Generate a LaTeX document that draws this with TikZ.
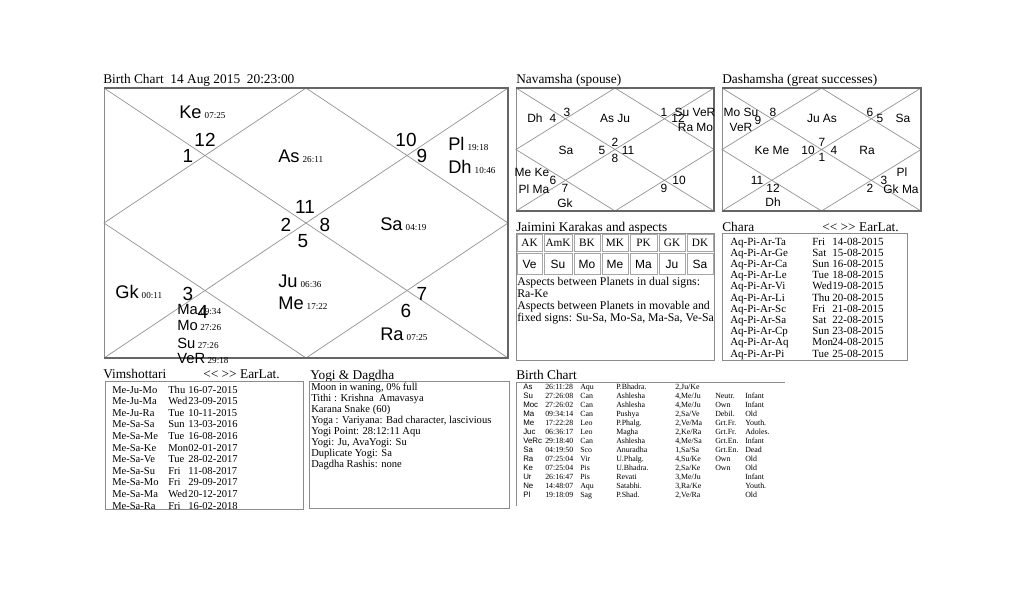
\documentclass[tikz,border=0pt]{standalone}
\usepackage{fontspec}
\setmainfont{Liberation Serif}
\newfontfamily\chartsans{Liberation Sans}
\newcommand\dgr[1]{\,{\rmfamily\fontsize{6.5}{6.5}\selectfont #1}}
\newcommand\dayfld[1]{\makebox[14.3pt][l]{#1}}
\newcommand\navlink{\textless\kern0pt\textless\ \textgreater\kern0pt\textgreater\ EarLat.}

\begin{document}
\begin{tikzpicture}[x=0.025cm,y=-0.025cm,
  every node/.style={inner sep=0pt},
  house/.style={font=\chartsans\fontsize{13}{13}\selectfont,anchor=base west},
  hnum/.style={font=\chartsans\fontsize{13.5}{13.5}\selectfont,anchor=base},
  crowd/.style={font=\chartsans\fontsize{10.5}{10.5}\selectfont,anchor=base west},
  varga/.style={font=\chartsans\fontsize{8.5}{8.5}\selectfont},
  ttl/.style={font=\fontsize{9.5}{9.5}\selectfont,anchor=base west},
  listtxt/.style={font=\fontsize{#1}{#1}\selectfont,anchor=base west},
  chartline/.style={draw=gray!85,line width=0.5pt},
  frame/.style={draw=gray!90,line width=0.6pt},
  heavy/.style={draw=gray!80!black,line width=1.4pt},
  cell/.style={draw=gray!70,line width=0.5pt}]
\useasboundingbox (0,0) rectangle (1024,614);

% ---------- Rasi chart
\node[ttl] (rasiT) at (103,83) {Birth Chart\ \ 14 Aug 2015\ \ 20:23:00};
\coordinate (tl) at (104,88); \coordinate (tr) at (508,88);
\coordinate (bl) at (104,358); \coordinate (br) at (508,358);
\coordinate (tm) at (306,88); \coordinate (bm) at (306,358);
\coordinate (lm) at (104,223); \coordinate (rm) at (508,223);
\draw[frame] (tl) rectangle (br);
\draw[chartline] (tl) -- (br) (tr) -- (bl);
\draw[chartline] (tm) -- (rm) -- (bm) -- (lm) -- cycle;
\draw[heavy] (tl) -- (tr) -- (br) -- (bl);

\node[house] (ke) at (179,118) {Ke\dgr{07:25}};
\node[house] (as) at (278,162) {As\dgr{26:11}};
\node[house] (pl) at (448,150) {Pl\dgr{19:18}};
\node[house] (dh) at (448,173) {Dh\dgr{10:46}};
\node[house] (sa) at (380,230) {Sa\dgr{04:19}};
\node[house] (gk) at (115,298) {Gk\dgr{00:11}};
\node[house] (ju) at (278,287) {Ju\dgr{06:36}};
\node[house] (me) at (278,309) {Me\dgr{17:22}};
\node[house] (ra) at (380,340) {Ra\dgr{07:25}};
\node[crowd] (ma) at (177,314) {Ma\dgr{09:34}};
\node[crowd] (mo) at (177,330) {Mo\dgr{27:26}};
\node[crowd] (su) at (177,348) {Su\dgr{27:26}};
\node[crowd] (ve) at (177,363) {VeR\dgr{29:18}};

\foreach \hx/\hy/\hn in {205/146/12, 188/162/1, 406/146/10, 422/162/9,
    305/213/11, 286/231/2, 325/231/8, 303/247/5,
    188/300/3, 203/318/4, 422/300/7, 406/317/6}
  \node[hnum] (h\hn) at (\hx,\hy) {\hn};

% ---------- Navamsha
\node[ttl] (navT) at (516,83) {Navamsha (spouse)};
\coordinate (ntl) at (516,88); \coordinate (ntr) at (714,88);
\coordinate (nbl) at (516,211); \coordinate (nbr) at (714,211);
\coordinate (ntm) at (615,88); \coordinate (nbm) at (615,211);
\coordinate (nlm) at (516,149.5); \coordinate (nrm) at (714,149.5);
\draw[frame] (ntl) rectangle (nbr);
\draw[chartline] (ntl) -- (nbr) (ntr) -- (nbl);
\draw[chartline] (ntm) -- (nrm) -- (nbm) -- (nlm) -- cycle;
\draw[heavy] (ntl) -- (ntr) -- (nbr) -- (nbl);
\foreach \vx/\vy/\vt [count=\i] in {535/118/Dh, 553/118/4, 567/112/3, 615/118/As Ju,
    664/112/1, 695/112/Su VeR, 678/118/12, 695.5/127/Ra Mo, 566/150/Sa,
    602/150/5, 615/142/2, 628/150/11, 615/158/8,
    532/172/Me Ke, 553/180/6, 534/189/Pl Ma, 565/188/7, 565/203/Gk,
    679/180/10, 664/188/9}
  \node[varga] (nv\i) at (\vx,\vy) {\vt};

% ---------- Dashamsha
\node[ttl] (dasT) at (722,83) {Dashamsha (great successes)};
\coordinate (dtl) at (722,88); \coordinate (dtr) at (921,88);
\coordinate (dbl) at (722,211); \coordinate (dbr) at (921,211);
\coordinate (dtm) at (821.5,88); \coordinate (dbm) at (821.5,211);
\coordinate (dlm) at (722,149.5); \coordinate (drm) at (921,149.5);
\draw[frame] (dtl) rectangle (dbr);
\draw[chartline] (dtl) -- (dbr) (dtr) -- (dbl);
\draw[chartline] (dtm) -- (drm) -- (dbm) -- (dlm) -- cycle;
\draw[heavy] (dtl) -- (dtr) -- (dbr) -- (dbl);
\foreach \vx/\vy/\vt [count=\i] in {741/112/Mo Su, 758/120/9, 773/112/8, 741/127/VeR,
    822/118/Ju As, 870/112/6, 880/118/5, 903/118/Sa,
    772/150/Ke Me, 808/150/10, 822/142/7, 834/150/4, 822/157/1, 867/150/Ra,
    757/180/11, 773/188/12, 773/202/Dh,
    902/172/Pl, 884/180/3, 901/189/Gk Ma, 870/188/2}
  \node[varga] (dv\i) at (\vx,\vy) {\vt};

% ---------- Jaimini karakas
\node[ttl] (jaiT) at (516,231) {Jaimini Karakas and aspects};
\draw[frame] (516,233) rectangle (714,360);
\foreach \xa/\xb/\kk/\kp [count=\i] in {516/543/AK/Ve, 543/573/AmK/Su, 573/601/BK/Mo,
    601/629/MK/Me, 629/658/PK/Ma, 658/686/GK/Ju, 686/714/DK/Sa} {
  \draw[cell] (\xa+1,234) rectangle (\xb-1,251);
  \draw[cell] (\xa+1,253) rectangle (\xb-1,274);
  \node[font=\fontsize{8}{8}\selectfont] (kk\i) at ({(\xa+\xb)/2},243) {\kk};
  \node[varga] (kp\i) at ({(\xa+\xb)/2},264) {\kp};
}
\foreach \ln [count=\i from 0] in {Aspects between Planets in dual signs:, Ra-Ke,
    Aspects between Planets in movable and, {fixed signs: Su-Sa, Mo-Sa, Ma-Sa, Ve-Sa}}
  \node[listtxt=8.4] (asp\i) at (517,{285+12.3*\i}) {\ln};

% ---------- Chara
\node[ttl] (chaT) at (722,231) {Chara};
\node[ttl] (chaE) at (822,231) {\navlink};
\draw[frame] (722,233) rectangle (907,360);
\foreach \cs/\cd/\ct [count=\i from 0] in {Aq-Pi-Ar-Ta/Fri/14-08-2015,
    Aq-Pi-Ar-Ge/Sat/15-08-2015, Aq-Pi-Ar-Ca/Sun/16-08-2015, Aq-Pi-Ar-Le/Tue/18-08-2015,
    Aq-Pi-Ar-Vi/Wed/19-08-2015, Aq-Pi-Ar-Li/Thu/20-08-2015, Aq-Pi-Ar-Sc/Fri/21-08-2015,
    Aq-Pi-Ar-Sa/Sat/22-08-2015, Aq-Pi-Ar-Cp/Sun/23-08-2015, Aq-Pi-Ar-Aq/Mon/24-08-2015,
    Aq-Pi-Ar-Pi/Tue/25-08-2015} {
  \node[listtxt=7.8] (cs\i) at (730,{245+11.2*\i}) {\cs};
  \node[listtxt=7.8] (cd\i) at (812,{245+11.2*\i}) {\dayfld{\cd}\ct};
}

% ---------- Vimshottari
\node[ttl] (vimT) at (103,378) {Vimshottari};
\node[ttl] (vimE) at (203,378) {\navlink};
\draw[frame] (105,381) rectangle (303,509);
\foreach \vs/\vd/\vt [count=\i from 0] in {Me-Ju-Mo/Thu/16-07-2015,
    Me-Ju-Ma/Wed/23-09-2015, Me-Ju-Ra/Tue/10-11-2015, Me-Sa-Sa/Sun/13-03-2016,
    Me-Sa-Me/Tue/16-08-2016, Me-Sa-Ke/Mon/02-01-2017, Me-Sa-Ve/Tue/28-02-2017,
    Me-Sa-Su/Fri/11-08-2017, Me-Sa-Mo/Fri/29-09-2017, Me-Sa-Ma/Wed/20-12-2017,
    Me-Sa-Ra/Fri/16-02-2018} {
  \node[listtxt=7.5] (vs\i) at (112,{393+11.6*\i}) {\vs};
  \node[listtxt=7.5] (vd\i) at (168,{393+11.6*\i}) {\dayfld{\vd}\vt};
}

% ---------- Yogi & Dagdha
\node[ttl] (yogT) at (310,379) {Yogi \& Dagdha};
\draw[frame] (309,381) rectangle (509,508);
\foreach \ln [count=\i from 0] in {{Moon in waning, 0\% full}, Tithi : Krishna\ \ Amavasya,
    Karana Snake (60), {Yoga : Variyana: Bad character, lascivious},
    Yogi Point: 28:12:11 Aqu, {Yogi: Ju, AvaYogi: Su}, Duplicate Yogi: Sa,
    Dagdha Rashis: none}
  \node[listtxt=7.5] (yog\i) at (311,{390+11.1*\i}) {\ln};

% ---------- Birth chart positions
\node[ttl] (posT) at (516,379) {Birth Chart};
\draw[frame] (516,506) -- (516,382) -- (785,382);
\foreach \pn/\pd/\ps/\pk/\pp/\pr/\pa [count=\i from 0] in {
    As/26:11:28/Aqu/P.Bhadra./{2,Ju/Ke}/{}/{},
    Su/27:26:08/Can/Ashlesha/{4,Me/Ju}/Neutr./Infant,
    Moc/27:26:02/Can/Ashlesha/{4,Me/Ju}/Own/Infant,
    Ma/09:34:14/Can/Pushya/{2,Sa/Ve}/Debil./Old,
    Me/17:22:28/Leo/P.Phalg./{2,Ve/Ma}/Grt.Fr./Youth.,
    Juc/06:36:17/Leo/Magha/{2,Ke/Ra}/Grt.Fr./Adoles.,
    VeRc/29:18:40/Can/Ashlesha/{4,Me/Sa}/Grt.En./Infant,
    Sa/04:19:50/Sco/Anuradha/{1,Sa/Sa}/Grt.En./Dead,
    Ra/07:25:04/Vir/U.Phalg./{4,Su/Ke}/Own/Old,
    Ke/07:25:04/Pis/U.Bhadra./{2,Sa/Ke}/Own/Old,
    Ur/26:16:47/Pis/Revati/{3,Me/Ju}/{}/Infant,
    Ne/14:48:07/Aqu/Satabhi./{3,Ra/Ke}/{}/Youth.,
    Pl/19:18:09/Sag/P.Shad./{2,Ve/Ra}/{}/Old} {
  \node[listtxt=5.6,font=\chartsans\fontsize{5.6}{5.6}\selectfont] (pn\i) at (523,{389.5+9.04*\i}) {\pn};
  \node[listtxt=5.6] (pd\i) at (545,{389.5+9.04*\i}) {\pd};
  \node[listtxt=5.6] (ps\i) at (580,{389.5+9.04*\i}) {\ps};
  \node[listtxt=5.6] (pk\i) at (616,{389.5+9.04*\i}) {\pk};
  \node[listtxt=5.6] (pp\i) at (675,{389.5+9.04*\i}) {\pp};
  \node[listtxt=5.6] (pr\i) at (715,{389.5+9.04*\i}) {\pr};
  \node[listtxt=5.6] (pa\i) at (745,{389.5+9.04*\i}) {\pa};
}
\end{tikzpicture}
\end{document}
